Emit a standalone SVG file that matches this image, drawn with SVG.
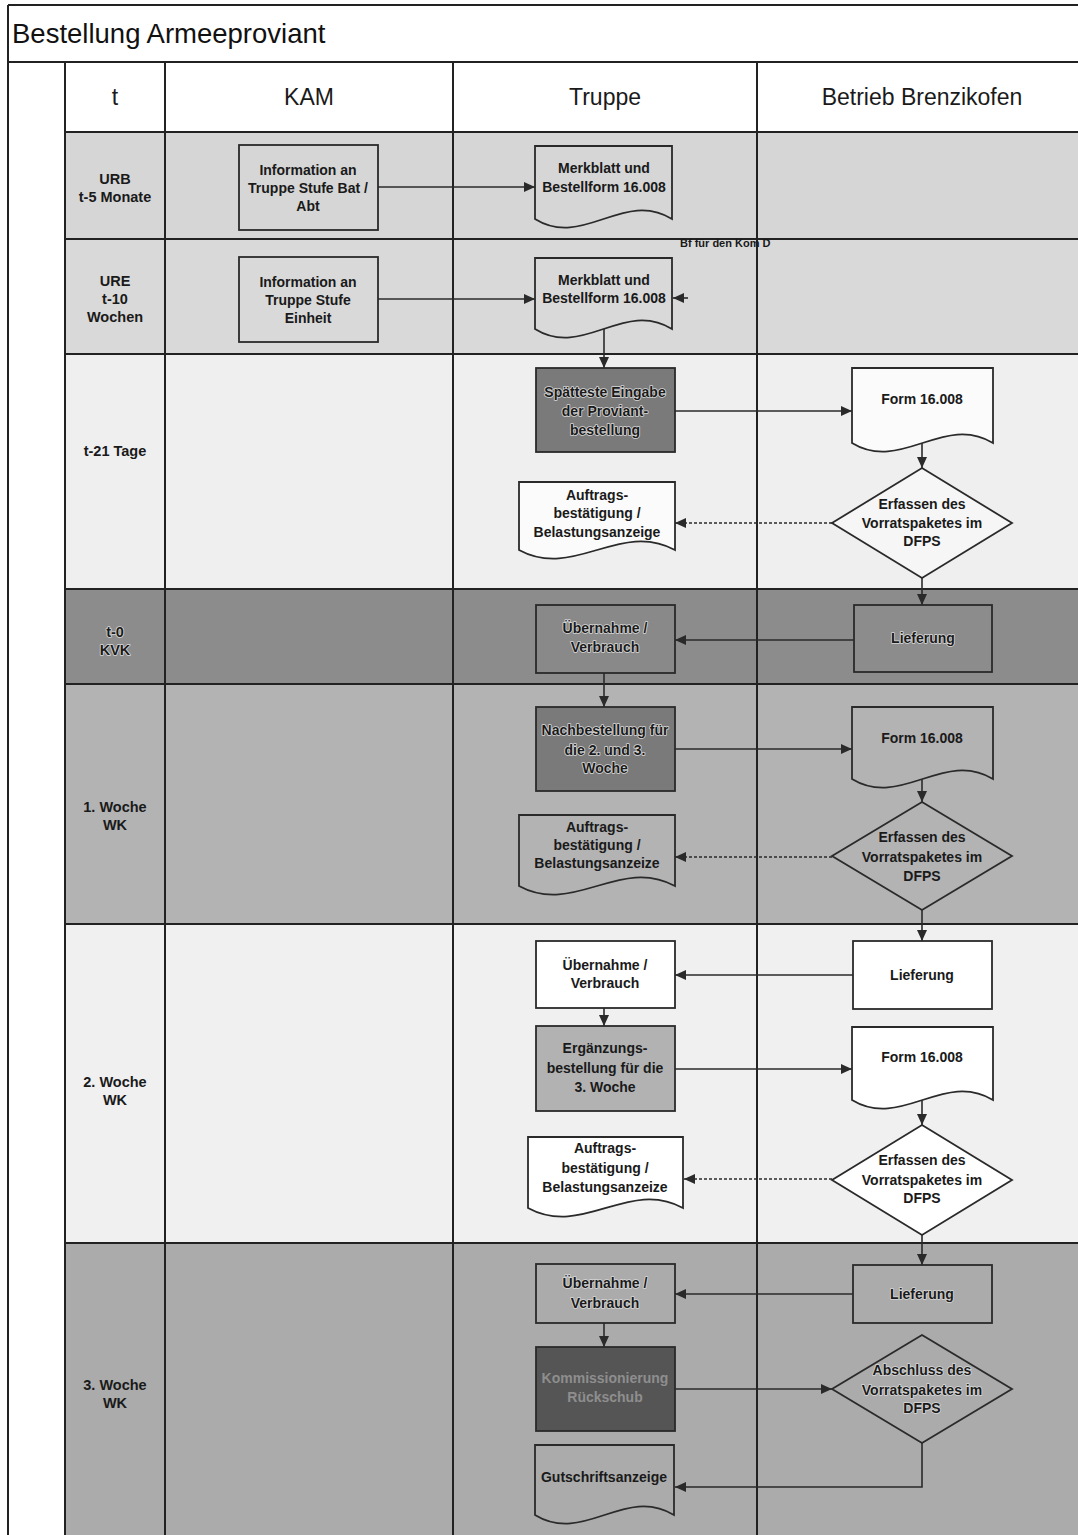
<svg xmlns="http://www.w3.org/2000/svg" width="1078" height="1535" viewBox="0 0 1078 1535">
<style>
.grid{stroke:#222;stroke-width:2;fill:none}
.node{stroke:#2a2a2a;stroke-width:1.8}
.t{font-family:"Liberation Sans",Arial,sans-serif;font-weight:bold;font-size:14px;fill:#1a1a1a;text-anchor:middle}
.lab{font-family:"Liberation Sans",Arial,sans-serif;font-weight:bold;font-size:14.5px;fill:#1a1a1a;text-anchor:middle}
.hd{font-family:"Liberation Sans",Arial,sans-serif;font-size:23px;fill:#1a1a1a;text-anchor:middle}
.halo{stroke:#d8d8d8;stroke-width:1.6;paint-order:stroke;stroke-linejoin:round}
.con{stroke:#2a2a2a;stroke-width:1.6;fill:none;marker-end:url(#ah)}
.dash{stroke-dasharray:3 2}
</style>
<defs>
<marker id="ah" markerUnits="userSpaceOnUse" markerWidth="12" markerHeight="10" refX="11" refY="5" orient="auto">
<path d="M0,0 L11,5 L0,10 z" fill="#2a2a2a"/>
</marker>
</defs>
<rect width="1078" height="1535" fill="#ffffff"/>
<g id="lanes">
<rect x="65" y="132" width="1013" height="107" fill="#d6d6d6"/>
<rect x="65" y="239" width="1013" height="115" fill="#d9d9d9"/>
<rect x="65" y="354" width="1013" height="235" fill="#efefef"/>
<rect x="65" y="589" width="1013" height="95" fill="#8c8c8c"/>
<rect x="65" y="684" width="1013" height="240" fill="#b3b3b3"/>
<rect x="65" y="924" width="1013" height="319" fill="#f0f0f0"/>
<rect x="65" y="1243" width="1013" height="292" fill="#ababab"/>
<path class="grid" d="M8,5 H1078 M8,62 H1078 M8,5 V1535 M65,62 V1535 M165,62 V1535 M453,62 V1535 M757,62 V1535 M65,132 H1078 M65,239 H1078 M65,354 H1078 M65,589 H1078 M65,684 H1078 M65,924 H1078 M65,1243 H1078"/>
<text x="12" y="43" font-family="'Liberation Sans',Arial,sans-serif" font-size="27.5" fill="#111">Bestellung Armeeproviant</text>
<text class="hd" x="115" y="105">t</text>
<text class="hd" x="309" y="105">KAM</text>
<text class="hd" x="605" y="105">Truppe</text>
<text class="hd" x="922" y="105">Betrieb Brenzikofen</text>
<text class="lab" x="115" y="184">URB</text>
<text class="lab" x="115" y="202">t-5 Monate</text>
<text class="lab" x="115" y="286">URE</text>
<text class="lab" x="115" y="304">t-10</text>
<text class="lab" x="115" y="322">Wochen</text>
<text class="lab" x="115" y="456">t-21 Tage</text>
<text class="lab halo" x="115" y="637">t-0</text>
<text class="lab halo" x="115" y="655">KVK</text>
<text class="lab" x="115" y="812">1. Woche</text>
<text class="lab" x="115" y="830">WK</text>
<text class="lab" x="115" y="1087">2. Woche</text>
<text class="lab" x="115" y="1105">WK</text>
<text class="lab" x="115" y="1390">3. Woche</text>
<text class="lab" x="115" y="1408">WK</text>
</g>
<g id="connectors">
<path class="con" d="M378,187 H535"/>
<path class="con" d="M378,299 H535"/>
<path class="con" d="M688,298 H673"/>
<text x="680" y="247" font-family="'Liberation Sans',Arial,sans-serif" font-weight="bold" font-size="11" fill="#1a1a1a">Bf für den Kom D</text>
<path class="con" d="M604,329 V368"/>
<path class="con" d="M675,411 H852"/>
<path class="con" d="M922,443 V468"/>
<path class="con dash" d="M832,523 H675"/>
<path class="con" d="M922,578 V605"/>
<path class="con" d="M854,640 H675"/>
<path class="con" d="M604,673 V707"/>
<path class="con" d="M675,749 H852"/>
<path class="con" d="M922,779 V802"/>
<path class="con dash" d="M832,857 H675"/>
<path class="con" d="M922,910 V941"/>
<path class="con" d="M853,975 H675"/>
<path class="con" d="M604,1008 V1026"/>
<path class="con" d="M675,1069 H852"/>
<path class="con" d="M922,1100 V1125"/>
<path class="con dash" d="M832,1179 H684"/>
<path class="con" d="M922,1235 V1265"/>
<path class="con" d="M853,1294 H675"/>
<path class="con" d="M604,1323 V1347"/>
<path class="con" d="M675,1389 H832"/>
<path class="con" d="M922,1443 V1487 H675"/>
</g>
<g id="info1">
<rect class="node" x="239" y="145" width="139" height="85" fill="none"/>
<text class="t" x="308" y="175">Information an</text>
<text class="t" x="308" y="193">Truppe Stufe Bat /</text>
<text class="t" x="308" y="211">Abt</text>
</g>
<g id="info2">
<rect class="node" x="239" y="257" width="139" height="85" fill="none"/>
<text class="t" x="308" y="287">Information an</text>
<text class="t" x="308" y="305">Truppe Stufe</text>
<text class="t" x="308" y="323">Einheit</text>
</g>
<g id="merkblatt1">
<path class="node" fill="none" d="M535,146 H672 V219 C624,189 583,249 535,219 Z"/>
<text class="t" x="604" y="173">Merkblatt und</text>
<text class="t" x="604" y="192">Bestellform 16.008</text>
</g>
<g id="merkblatt2">
<path class="node" fill="none" d="M535,258 H672 V329 C624,299 583,359 535,329 Z"/>
<text class="t" x="604" y="285">Merkblatt und</text>
<text class="t" x="604" y="303">Bestellform 16.008</text>
</g>
<g id="spaeteste">
<rect class="node" x="536" y="368" width="139" height="84" fill="#7a7a7a"/>
<text class="t halo" x="605" y="397">Spätteste Eingabe</text>
<text class="t halo" x="605" y="416">der Proviant-</text>
<text class="t halo" x="605" y="435">bestellung</text>
</g>
<g id="form1">
<path class="node" fill="#fbfbfb" d="M852,368 H993 V443 C944,413 901,473 852,443 Z"/>
<text class="t" x="922" y="404">Form 16.008</text>
</g>
<g id="erfassen1">
<path class="node" fill="#f6f6f6" d="M922,468 L1012,523 L922,578 L832,523 Z"/>
<text class="t" x="922" y="509">Erfassen des</text>
<text class="t" x="922" y="528">Vorratspaketes im</text>
<text class="t" x="922" y="546">DFPS</text>
</g>
<g id="auftrag1">
<path class="node" fill="#fbfbfb" d="M519,482 H675 V550 C620,520 574,580 519,550 Z"/>
<text class="t" x="597" y="500">Auftrags-</text>
<text class="t" x="597" y="518">bestätigung /</text>
<text class="t" x="597" y="537">Belastungsanzeige</text>
</g>
<g id="lieferung1">
<rect class="node" x="854" y="605" width="138" height="67" fill="#8c8c8c"/>
<text class="t halo" x="923" y="643">Lieferung</text>
</g>
<g id="uebernahme1">
<rect class="node" x="536" y="605" width="139" height="68" fill="#898989"/>
<text class="t halo" x="605" y="633">Übernahme /</text>
<text class="t halo" x="605" y="652">Verbrauch</text>
</g>
<g id="nachbestellung">
<rect class="node" x="536" y="707" width="139" height="84" fill="#7a7a7a"/>
<text class="t halo" x="605" y="735">Nachbestellung für</text>
<text class="t halo" x="605" y="755">die 2. und 3.</text>
<text class="t halo" x="605" y="773">Woche</text>
</g>
<g id="form2">
<path class="node" fill="none" d="M852,707 H993 V779 C944,749 901,809 852,779 Z"/>
<text class="t" x="922" y="743">Form 16.008</text>
</g>
<g id="erfassen2">
<path class="node" fill="none" d="M922,802 L1012,856 L922,910 L832,856 Z"/>
<text class="t" x="922" y="842">Erfassen des</text>
<text class="t" x="922" y="862">Vorratspaketes im</text>
<text class="t" x="922" y="881">DFPS</text>
</g>
<g id="auftrag2">
<path class="node" fill="none" d="M519,815 H675 V886 C620,856 574,916 519,886 Z"/>
<text class="t" x="597" y="832">Auftrags-</text>
<text class="t" x="597" y="850">bestätigung /</text>
<text class="t" x="597" y="868">Belastungsanzeize</text>
</g>
<g id="lieferung2">
<rect class="node" x="853" y="941" width="139" height="68" fill="#ffffff"/>
<text class="t" x="922" y="980">Lieferung</text>
</g>
<g id="uebernahme2">
<rect class="node" x="536" y="941" width="139" height="67" fill="#ffffff"/>
<text class="t" x="605" y="970">Übernahme /</text>
<text class="t" x="605" y="988">Verbrauch</text>
</g>
<g id="ergaenzung">
<rect class="node" x="536" y="1026" width="139" height="85" fill="#b2b2b2"/>
<text class="t" x="605" y="1053">Ergänzungs-</text>
<text class="t" x="605" y="1073">bestellung für die</text>
<text class="t" x="605" y="1092">3. Woche</text>
</g>
<g id="form3">
<path class="node" fill="#ffffff" d="M852,1027 H993 V1100 C944,1070 901,1130 852,1100 Z"/>
<text class="t" x="922" y="1062">Form 16.008</text>
</g>
<g id="erfassen3">
<path class="node" fill="#ffffff" d="M922,1125 L1012,1180 L922,1235 L832,1180 Z"/>
<text class="t" x="922" y="1165">Erfassen des</text>
<text class="t" x="922" y="1185">Vorratspaketes im</text>
<text class="t" x="922" y="1203">DFPS</text>
</g>
<g id="auftrag3">
<path class="node" fill="#ffffff" d="M528,1137 H683 V1208 C629,1178 583,1238 528,1208 Z"/>
<text class="t" x="605" y="1153">Auftrags-</text>
<text class="t" x="605" y="1173">bestätigung /</text>
<text class="t" x="605" y="1192">Belastungsanzeize</text>
</g>
<g id="lieferung3">
<rect class="node" x="853" y="1265" width="139" height="58" fill="#ababab"/>
<text class="t halo" x="922" y="1299">Lieferung</text>
</g>
<g id="uebernahme3">
<rect class="node" x="536" y="1264" width="139" height="59" fill="#ababab"/>
<text class="t halo" x="605" y="1288">Übernahme /</text>
<text class="t halo" x="605" y="1308">Verbrauch</text>
</g>
<g id="kommissionierung">
<rect class="node" x="536" y="1347" width="139" height="84" fill="#555555"/>
<text class="t" x="605" y="1383" style="fill:#8e8e8e">Kommissionierung</text>
<text class="t" x="605" y="1402" style="fill:#8e8e8e">Rückschub</text>
</g>
<g id="abschluss">
<path class="node" fill="none" d="M922,1335 L1012,1389 L922,1443 L832,1389 Z"/>
<text class="t halo" x="922" y="1375">Abschluss des</text>
<text class="t halo" x="922" y="1395">Vorratspaketes im</text>
<text class="t halo" x="922" y="1413">DFPS</text>
</g>
<g id="gutschrift">
<path class="node" fill="none" d="M535,1445 H674 V1515 C625,1485 584,1545 535,1515 Z"/>
<text class="t" x="604" y="1482">Gutschriftsanzeige</text>
</g>
</svg>
